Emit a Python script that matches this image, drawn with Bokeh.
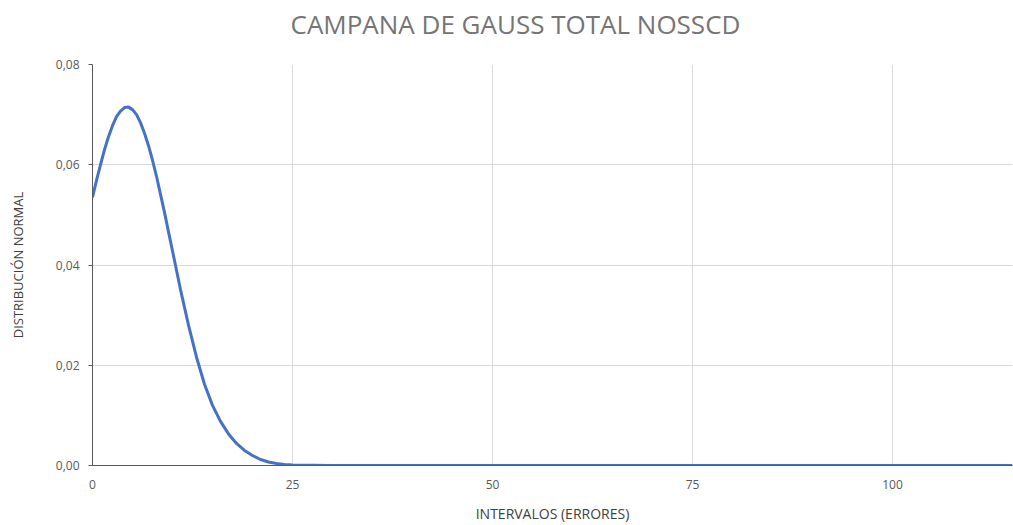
from bokeh.plotting import figure
from bokeh.models import Range1d, FixedTicker, CustomJSTickFormatter, Title
from bokeh.embed import file_html
from bokeh.resources import INLINE

# Data
x_vals = [0, 0.5, 1, 1.5, 2, 2.5, 3, 3.5, 4, 4.5, 5, 5.5, 6, 6.5, 7, 7.5,
          8, 8.5, 9, 9.5, 10, 11, 12, 13, 14, 15, 16, 17, 18, 19, 20, 21,
          22, 23, 24, 25, 30, 40, 50, 60, 70, 80, 90, 100, 110, 115]
y_vals = [0.0535, 0.0569, 0.0600, 0.0630, 0.0656, 0.0678, 0.0696, 0.0707,
          0.0714, 0.0715, 0.0710, 0.0700, 0.0684, 0.0663, 0.0638, 0.0609,
          0.0577, 0.0541, 0.0505, 0.0466, 0.0428, 0.0351, 0.0280, 0.0216,
          0.0162, 0.0120, 0.0088, 0.0063, 0.0044, 0.0030, 0.0020, 0.0012,
          0.0007, 0.0004, 0.0002, 0.0001,
          0.0, 0.0, 0.0, 0.0, 0.0, 0.0, 0.0, 0.0, 0.0, 0.0]
x_ticks = [0, 25, 50, 75, 100]
y_ticks = [0.0, 0.02, 0.04, 0.06, 0.08]

title_text = "CAMPANA DE GAUSS TOTAL NOSSCD"
x_label = "INTERVALOS (ERRORES)"
y_label = "DISTRIBUCIÓN NORMAL"

p = figure(width=1013, height=525, output_backend="svg", toolbar_location=None,
           x_range=Range1d(0, 115), y_range=Range1d(0, 0.08),
           min_border_left=92, min_border_right=1, min_border_top=64,
           min_border_bottom=60)
p.outline_line_color = None
p.background_fill_color = "white"
p.border_fill_color = "white"

# thin spacer panel between title and plot area
spacer = Title(text=" ", text_font_size="2px", standoff=13)
p.add_layout(spacer, "above")

t = Title(text=title_text, align="left", offset=198, vertical_align="top",
          text_font="Open Sans", text_font_size="26px",
          text_color="#757575", text_font_style="normal", standoff=8)
p.add_layout(t, "above")

p.line(x_vals, y_vals, line_color="#4472C4", line_width=3)

fmt = CustomJSTickFormatter(code="return tick.toFixed(2).replace('.', ',');")
p.yaxis.ticker = FixedTicker(ticks=y_ticks)
p.yaxis.formatter = fmt
p.xaxis.ticker = FixedTicker(ticks=x_ticks)

for ax in (p.xaxis, p.yaxis):
    ax.axis_line_color = "#595959"
    ax.axis_line_width = 1
    ax.major_label_text_font = "Open Sans"
    ax.major_label_text_font_size = "12px"
    ax.major_label_text_color = "#595959"
    ax.minor_tick_line_color = None
    ax.axis_label_text_font = "Open Sans"
    ax.axis_label_text_color = "#404040"
    ax.axis_label_text_font_style = "normal"

p.yaxis.major_tick_line_color = "#595959"
p.yaxis.major_tick_out = 4
p.yaxis.major_tick_in = 0
p.yaxis.major_label_standoff = 9
p.yaxis.axis_label = y_label
p.yaxis.axis_label_text_font_size = "13px"
p.yaxis.axis_label_standoff = 26

p.xaxis.major_tick_line_color = None
p.xaxis.major_label_standoff = 8
p.xaxis.axis_label = x_label
p.xaxis.axis_label_text_font_size = "14px"
p.xaxis.axis_label_standoff = 12

p.xgrid.ticker = FixedTicker(ticks=[25, 50, 75, 100])
p.ygrid.ticker = FixedTicker(ticks=[0.02, 0.04, 0.06, 0.08])
p.xgrid.grid_line_color = "#d9d9d9"
p.ygrid.grid_line_color = "#d9d9d9"

open("out.html", "w").write(file_html(p, INLINE))
